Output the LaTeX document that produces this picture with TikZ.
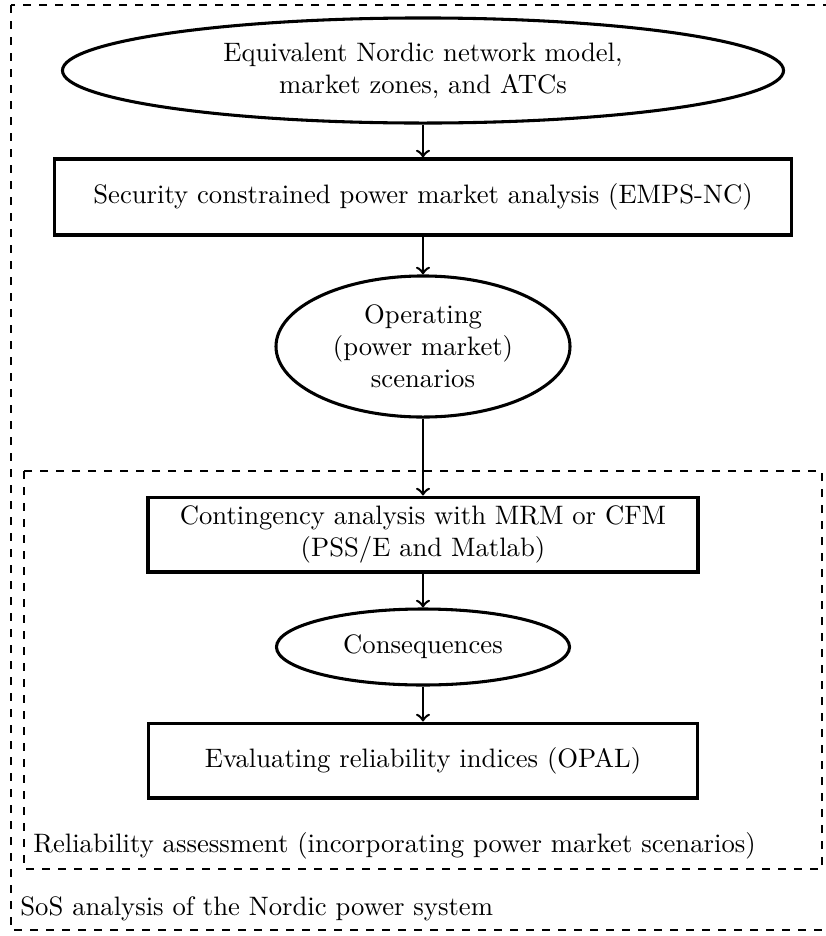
\documentclass[tikz,border=0pt]{standalone}
\usetikzlibrary{shapes.geometric,arrows}
\begin{document}
\begin{tikzpicture}[x=0.375pt,y=-0.375pt,
  frame/.style={draw,dashed,line width=0.75pt},
  procbox/.style={draw,rectangle,line width=1.15pt,align=center,inner sep=0pt},
  databox/.style={draw,ellipse,line width=1.15pt,align=center,inner sep=0pt},
  flow/.style={->,line width=0.95pt},
  framelabel/.style={anchor=south west,inner sep=3.33pt}]
  \useasboundingbox (0,0) rectangle (826,936);

  % outer and inner analysis frames
  \draw[frame] (11,5) rectangle (832,930);
  \draw[frame] (24,471) rectangle (822,869);
  \node[framelabel] (reltext) at (24,869) {Reliability assessment (incorporating power market scenarios)};
  \node[framelabel] (sostext) at (11,930) {SoS analysis of the Nordic power system};

  % process chain
  \node[databox,minimum width=270.4pt,minimum height=39.4pt] (model) at (423,70.5)
    {Equivalent Nordic network model,\\market zones, and ATCs};
  \node[procbox,minimum width=276.4pt,minimum height=28.5pt] (market) at (423,197)
    {Security constrained power market analysis (EMPS-NC)};
  \node[databox,minimum width=110.25pt,minimum height=52.9pt] (scen) at (423,346.5)
    {Operating\\(power market)\\scenarios};
  \node[procbox,minimum width=206.25pt,minimum height=28.1pt] (contin) at (423,534.5)
    {Contingency analysis with MRM or CFM\\(PSS/E and Matlab)};
  \node[databox,minimum width=109.9pt,minimum height=28.5pt] (conseq) at (423,647)
    {Consequences};
  \node[procbox,minimum width=206pt,minimum height=28.1pt] (opal) at (423,760.5)
    {Evaluating reliability indices (OPAL)};

  \draw[flow] (model) -- (market);
  \draw[flow] (market) -- (scen);
  \draw[flow] (scen) -- (contin);
  \draw[flow] (contin) -- (conseq);
  \draw[flow] (conseq) -- (opal);
\end{tikzpicture}
\end{document}
